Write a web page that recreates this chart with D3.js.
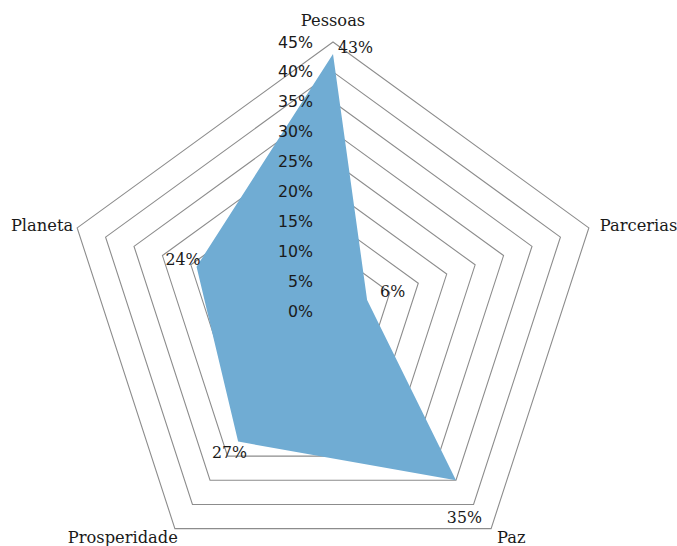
<!DOCTYPE html>
<html><head><meta charset="utf-8">
<script src="https://cdn.jsdelivr.net/npm/d3@7"></script>
<style>body{margin:0;background:#fff}</style>
</head><body>
<svg id="c" width="677" height="546"></svg>
<script>
const categories = ["Pessoas","Parcerias","Paz","Prosperidade","Planeta"];
const values = [43, 6, 35, 27, 24];
const tickValues = [0,5,10,15,20,25,30,35,40,45];
const tickLabels = ["0%","5%","10%","15%","20%","25%","30%","35%","40%","45%"];

const svg = d3.select("#c");
const cx = 333, cy = 311, R = 269;
const r = d3.scaleLinear().domain([0,45]).range([0,R]);
const ang = d3.scalePoint().domain(categories).range([0, 2*Math.PI*4/5]);
const pt = (c, v) => { const a = ang(c); return [cx + r(v)*Math.sin(a), cy - r(v)*Math.cos(a)]; };

// grid rings
const line = d3.line().curve(d3.curveLinearClosed);
svg.append("g").selectAll("path").data(tickValues.filter(v=>v>0)).join("path")
  .attr("d", v => line(categories.map(c => pt(c, v))))
  .attr("fill","none").attr("stroke","#8c8c8c").attr("stroke-width",1.1);

// area
svg.append("path")
  .attr("d", line(categories.map((c,i) => pt(c, values[i]))))
  .attr("fill","#70acd3");

// tick labels
svg.append("g").selectAll("text").data(tickValues).join("text")
  .attr("x", cx - 20).attr("y", v => r.copy().range([cy, cy - R])(v)).attr("dy","0.35em")
  .attr("text-anchor","end").attr("font-family","DejaVu Sans").attr("font-size",15.8)
  .attr("fill","#1a1a1a").text((v,i)=>tickLabels[i]);

// category labels
const catPos = {
  "Pessoas":[0,-22,"middle"], "Parcerias":[11,-3,"start"], "Paz":[6,9,"start"],
  "Prosperidade":[3,9,"end"], "Planeta":[-4,-3,"end"]
};
svg.append("g").selectAll("text").data(categories).join("text")
  .attr("x", c => pt(c,45)[0] + catPos[c][0]).attr("y", c => pt(c,45)[1] + catPos[c][1])
  .attr("dy","0.35em").attr("text-anchor", c => catPos[c][2])
  .attr("font-family","DejaVu Serif").attr("font-size",16.3).attr("fill","#1a1a1a").text(c=>c);

// data labels
const dlPos = [[5,-6,"start"],[13,-8,"start"],[26,37,"end"],[9,11,"end"],[4,-7,"end"]];
svg.append("g").selectAll("text").data(categories).join("text")
  .attr("x", (c,i) => pt(c, values[i])[0] + dlPos[i][0]).attr("y", (c,i) => pt(c, values[i])[1] + dlPos[i][1])
  .attr("dy","0.35em").attr("text-anchor", (c,i) => dlPos[i][2])
  .attr("font-family","DejaVu Serif").attr("font-size",15.8).attr("fill","#1a1a1a")
  .text((c,i)=>values[i]+"%");
</script>
</body></html>
